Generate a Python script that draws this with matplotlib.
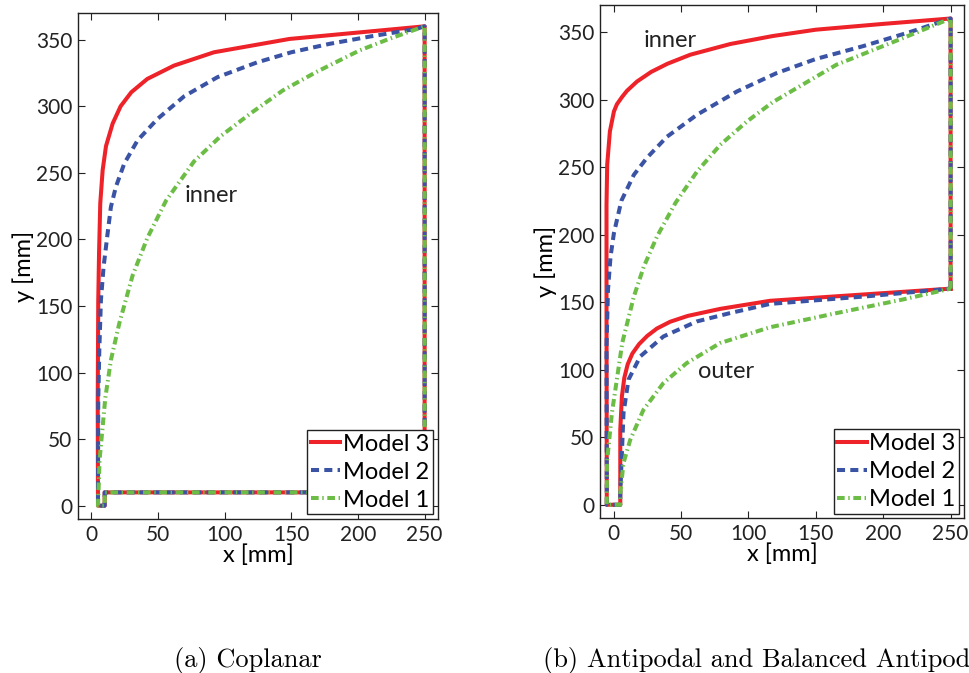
import numpy as np
import matplotlib.pyplot as plt

# colours / fonts (MATLAB-ish export)
RED = '#ee2229'
BLUE = '#3a53a4'
GREEN = '#6cbd45'
plt.rcParams['font.family'] = ['Lato', 'DejaVu Sans']

# ---------- (a) Coplanar : closed contour of each model ----------
cop_m3_x = [250, 250, 148.6, 92, 62, 42, 30, 22, 16, 11, 8.5, 6.7, 5.8, 5.2, 4.8, 5, 10, 10, 250]
cop_m3_y = [10, 360, 350.5, 340.5, 330.5, 320.5, 310.5, 300, 287, 270, 252, 227, 190, 154, 79, 0, 0, 10, 10]

cop_m2_x = [250, 250, 243.5, 210, 178.5, 150, 124.6, 94.6, 69.7, 49.7, 34.7, 24.7, 18.4, 14.7, 12.2, 9.2,
            7.2, 6, 5.2, 5, 10, 10, 250]
cop_m2_y = [10, 360, 358, 352.5, 346.8, 340.5, 333, 321.8, 307.5, 290.5, 274.4, 256.9, 239.4, 224.4, 204.4,
            179.4, 154.4, 117, 79.5, 0, 0, 10, 10]

cop_m1_x = [250, 250, 223.5, 201, 168.6, 143.6, 120, 97, 77, 56, 42, 31, 21, 14.7, 10.5, 6.2, 5, 10, 10, 250]
cop_m1_y = [10, 360, 350.6, 341.8, 325.6, 311.8, 295, 277.5, 258.5, 229, 201, 173, 137, 109.4, 81, 34.5,
            0, 0, 10, 10]

# ---------- (b) Antipodal : inner + outer contour ----------
ant_m3_x = [250, 250, 200, 150, 118, 86.6, 57, 40, 28, 17.5, 10, 6.4, 2.5, 0.3, -2.7, -4.7, -5.2, -5.2, -5,
            5, 5, 6.2, 8, 10.5, 14, 19, 25, 32.2, 42, 55, 79, 116, 190, 250]
ant_m3_y = [160, 360, 356, 351.7, 347, 341.1, 333.2, 326.5, 320.5, 313.4, 306.5, 302, 296.5, 291.2, 276.4,
            251.7, 222, 150, 0,
            0, 55.5, 80.2, 94, 104, 112, 119, 125, 130.5, 135.5, 139.8, 145, 151, 156, 160]

ant_m2_x = [250, 250, 220, 185, 150, 121, 91.6, 62, 39.7, 24.9, 15.1, 5.8, 0.3, -2.2, -4.1, -5.2, -5,
            5, 5, 7.4, 11.1, 19.8, 37, 61.7, 86.4, 116, 190, 250]
ant_m2_y = [160, 360, 350, 339.5, 330, 319.6, 306, 288.8, 272.5, 257, 244.3, 225, 201.2, 183.8, 159.2,
            117.2, 0,
            0, 8.6, 67.9, 92.6, 109.8, 124.6, 135.7, 141.9, 148.7, 154.5, 160]

ant_m1_x = [250, 250, 214.7, 165.4, 118, 99, 79.2, 62, 45.9, 32.3, 22.5, 15.1, 6.5, -1.2, -4.9, -5,
            5, 5, 7.4, 12.4, 22.2, 37, 54.3, 79, 116, 165.4, 214.7, 250]
ant_m1_y = [160, 360, 345.5, 325.8, 298, 283.8, 266.5, 246.8, 223.4, 198.7, 176.4, 154.2, 120, 67.9, 30.9, 0,
            0, 8.6, 30.9, 48.1, 70.3, 90.1, 104.9, 119.7, 131.4, 141.9, 152, 160]

labels = ['Model 3', 'Model 2', 'Model 1']
xticks = [0, 50, 100, 150, 200, 250]
yticks = [0, 50, 100, 150, 200, 250, 300, 350]

LW = 2.9
styles = [dict(color=RED, lw=LW, ls='-'),
          dict(color=BLUE, lw=LW, dashes=(2.0, 1.3)),
          dict(color=GREEN, lw=LW, dashes=(1.9, 0.9, 0.35, 0.9))]

fig = plt.figure(figsize=(9.7, 6.73), dpi=100)
ax1 = fig.add_axes([0.0804, 0.2288, 0.3711, 0.7519])
ax2 = fig.add_axes([0.6186, 0.2299, 0.3753, 0.7627])


def draw(ax, paths):
    for (px, py), st, lab in zip(paths, styles, labels):
        ax.plot(px, py, label=lab, solid_joinstyle='round', **st)
    ax.set_xlim(-10, 260)
    ax.set_ylim(-10, 370)
    ax.set_xticks(xticks)
    ax.set_yticks(yticks)
    ax.tick_params(direction='in', length=5, width=0.8, top=True, right=True,
                   labelsize=15, colors='#222222', pad=4)
    for s in ax.spines.values():
        s.set_linewidth(1.0)
        s.set_color('#222222')
    ax.set_xlabel('x [mm]', fontsize=17, labelpad=0)
    ax.set_ylabel('y [mm]', fontsize=17, labelpad=1)
    leg = ax.legend(loc='lower right', fontsize=17, handlelength=1.25, handletextpad=0.12,
                    labelspacing=0.3, borderpad=0.15, borderaxespad=0.2, fancybox=False,
                    framealpha=1)
    leg.get_frame().set_edgecolor('#222222')
    leg.get_frame().set_linewidth(1.0)


draw(ax1, [(cop_m3_x, cop_m3_y), (cop_m2_x, cop_m2_y), (cop_m1_x, cop_m1_y)])
draw(ax2, [(ant_m3_x, ant_m3_y), (ant_m2_x, ant_m2_y), (ant_m1_x, ant_m1_y)])

ax1.text(70, 233, 'inner', fontsize=17, va='center', color='#222222')
ax2.text(22, 344, 'inner', fontsize=17, va='center', color='#222222')
ax2.text(62.6, 98.5, 'outer', fontsize=17, va='center', color='#222222')

fig.text(248 / 970, 1 - 660 / 673, '(a) Coplanar', fontsize=19, family='cmr10',
         ha='center', va='center')
# caption of panel (b) runs past the right edge, as in the source figure
fig.text(543 / 970, 1 - 660 / 673, '(b) Antipodal and Balanced Antipodal', fontsize=19,
         family='cmr10', ha='left', va='center')

fig.savefig('out.png', dpi=100)
